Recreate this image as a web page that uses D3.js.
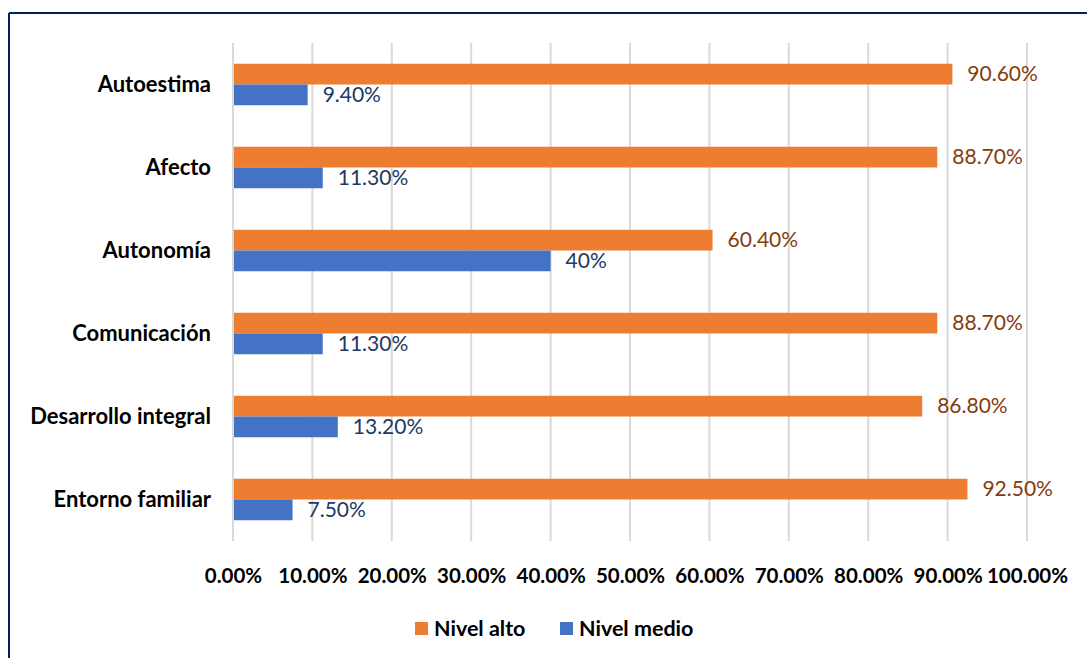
<!DOCTYPE html>
<html>
<head>
<meta charset="utf-8">
<script src="https://cdn.jsdelivr.net/npm/d3@7"></script>
<style>
  body { margin: 0; background: #fff; }
  svg { display: block; font-family: Lato, "Open Sans", sans-serif; }
</style>
</head>
<body>
<svg id="chart"></svg>
<script>
/* chart data */
var categories = ["Autoestima", "Afecto", "Autonomía", "Comunicación", "Desarrollo integral", "Entorno familiar"];
var nivelAlto = [90.6, 88.7, 60.4, 88.7, 86.8, 92.5];
var nivelMedio = [9.4, 11.3, 40, 11.3, 13.2, 7.5];
var seriesNames = ["Nivel alto", "Nivel medio"];
var xTicks = [0, 10, 20, 30, 40, 50, 60, 70, 80, 90, 100];

var width = 1087, height = 658,
    margin = { top: 43, left: 233, right: 59, bottom: 117 },
    colors = ["#ED7D31", "#4472C4"],
    labelColors = ["#843C0C", "#203864"];

var svg = d3.select("#chart").attr("width", width).attr("height", height);

// frame (top and left edges, the rest runs off the picture)
svg.append("line").attr("x1", 9).attr("y1", 13).attr("x2", width).attr("y2", 13)
  .attr("stroke", "#002060").attr("stroke-width", 2);
svg.append("line").attr("x1", 9).attr("y1", 13).attr("x2", 9).attr("y2", height)
  .attr("stroke", "#002060").attr("stroke-width", 2);

var innerWidth = width - margin.left - margin.right;
var innerHeight = height - margin.top - margin.bottom;

var g = svg.append("g")
  .attr("transform", "translate(" + margin.left + "," + margin.top + ")");

var xScale = d3.scaleLinear().domain([0, 100]).range([0, innerWidth - 1]);
var yScale = d3.scaleBand().domain(categories).range([0, innerHeight]).paddingInner(0.5).paddingOuter(0.25);
var sub = d3.scaleBand().domain(seriesNames).range([0, yScale.bandwidth()]);

// gridlines
g.selectAll(".grid").data(xTicks).enter().append("line")
  .attr("class", "grid")
  .attr("x1", function (d) { return xScale(d); })
  .attr("x2", function (d) { return xScale(d); })
  .attr("y1", 0).attr("y2", innerHeight)
  .attr("stroke", "#d9d9d9").attr("stroke-width", 2);

// x axis
var xAxis = d3.axisBottom(xScale).tickValues(xTicks).tickSize(0)
  .tickFormat(function (d) { return d3.format(".2f")(d) + "%"; });
var xAxisG = g.append("g").attr("transform", "translate(0," + innerHeight + ")").call(xAxis);
xAxisG.select(".domain").remove();
xAxisG.selectAll("text")
  .attr("y", 35).attr("dy", "0.35em")
  .attr("fill", "#000").style("font-size", "20.5px").style("font-weight", "bold")
  .style("font-family", "Lato, sans-serif");

// y axis labels
var yAxis = d3.axisLeft(yScale).tickSize(0);
var yAxisG = g.append("g").call(yAxis);
yAxisG.select(".domain").remove();
yAxisG.selectAll("text")
  .attr("x", -22)
  .attr("fill", "#000").style("font-size", "22px").style("font-weight", "bold")
  .style("font-family", "Lato, sans-serif");

// bars
var series = [nivelAlto, nivelMedio];
function fmt(v) { return (Number.isInteger(v) ? v : v.toFixed(2)) + "%"; }

series.forEach(function (vals, si) {
  var rows = categories.map(function (c, i) { return { name: c, value: vals[i] }; });
  g.selectAll(".bar-" + si).data(rows).enter().append("rect")
    .attr("class", "bar-" + si)
    .attr("x", xScale(0) + 1)
    .attr("y", function (d) { return yScale(d.name) + sub(seriesNames[si]); })
    .attr("width", function (d) { return xScale(d.value) - xScale(0) - 1; })
    .attr("height", sub.bandwidth())
    .attr("fill", colors[si]);

  g.selectAll(".lbl-" + si).data(rows).enter().append("text")
    .attr("class", "lbl-" + si)
    .attr("x", function (d) { return xScale(d.value) + 15; })
    .attr("y", function (d) { return yScale(d.name) + sub(seriesNames[si]) + sub.bandwidth() / 2; })
    .attr("dy", "0.35em")
    .attr("fill", labelColors[si])
    .style("font-size", "21px")
    .text(function (d) { return fmt(d.value); });
});

// legend
var legend = svg.append("g").attr("transform", "translate(415,628)");
var legendX = [0, 145];
seriesNames.forEach(function (s, i) {
  var lg = legend.append("g").attr("transform", "translate(" + legendX[i] + ",0)");
  lg.append("rect").attr("x", 0).attr("y", -6).attr("width", 13).attr("height", 13).attr("fill", colors[i]);
  lg.append("text").attr("x", 19).attr("y", 0).attr("dy", "0.35em")
    .style("font-size", "21.5px").style("font-weight", "bold").attr("fill", "#000")
    .text(s);
});
</script>
</body>
</html>
